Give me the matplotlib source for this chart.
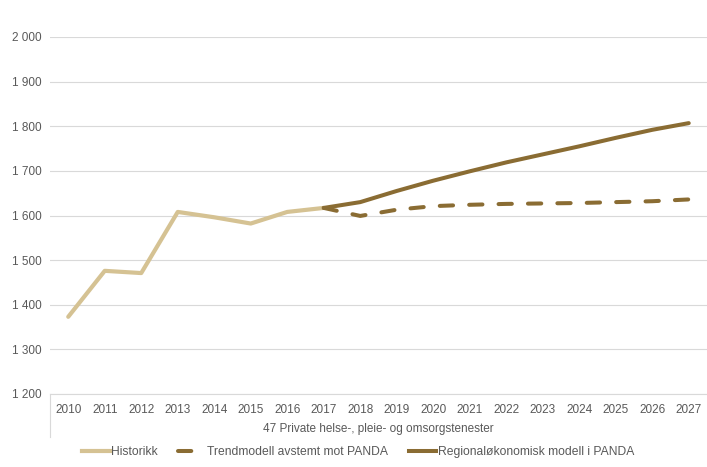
import matplotlib
matplotlib.use("Agg")
import matplotlib.pyplot as plt
from matplotlib.lines import Line2D

years = [str(y) for y in range(2010, 2028)]
historikk = [1373, 1476, 1471, 1608, 1596, 1582, 1608, 1617]
trend_years = years[7:]
trend = [1617, 1599, 1613, 1621, 1624, 1626, 1627, 1628, 1630, 1632, 1636]
regional = [1617, 1630, 1655, 1678, 1699, 1719, 1737, 1755, 1774, 1792, 1807]
yticks = [1200, 1300, 1400, 1500, 1600, 1700, 1800, 1900, 2000]
ytick_labels = ["1 200", "1 300", "1 400", "1 500", "1 600", "1 700", "1 800", "1 900", "2 000"]
category_label = "47 Private helse-, pleie- og omsorgstenester"
legend_labels = ["Historikk", "Trendmodell avstemt mot PANDA", "Regionaløkonomisk modell i PANDA"]

light = "#D5C293"
dark = "#8A6C33"
txt = "#595959"

plt.rcParams['font.family'] = ['Liberation Sans', 'DejaVu Sans']

W, H = 707, 467
fig = plt.figure(figsize=(W / 100, H / 100), dpi=100)
ax = fig.add_axes([50 / W, 1 - 394 / H, (707 - 50) / W, (394 - 37) / H])

xidx = {y: i for i, y in enumerate(years)}
hx = [xidx[y] for y in years[:len(historikk)]]
tx = [xidx[y] for y in trend_years]

l1, = ax.plot(hx, historikk, color=light, lw=3.0, solid_capstyle='round', solid_joinstyle='round', zorder=3)
l3, = ax.plot(tx, regional, color=dark, lw=2.9, solid_capstyle='round', solid_joinstyle='round', zorder=4)
l2, = ax.plot(tx, trend, color=dark, lw=2.9, dashes=(3.3, 4.0), dash_capstyle='round', zorder=4)

ax.set_xlim(-0.5, len(years) - 0.5)
ax.set_ylim(1200, 2000)
ax.set_yticks(yticks)
ax.set_yticklabels(ytick_labels)
ax.set_xticks(range(len(years)))
ax.set_xticklabels(years)
ax.tick_params(axis='both', length=0, labelsize=8.5, colors=txt)
ax.tick_params(axis='y', pad=6)
ax.tick_params(axis='x', pad=7)
ax.grid(axis='y', color='#D9D9D9', lw=0.8, zorder=0)
for s in ['top', 'right', 'left']:
    ax.spines[s].set_visible(False)
ax.spines['bottom'].set_color('#D9D9D9')
ax.spines['bottom'].set_linewidth(0.8)

# multi-level category axis box line
ax.plot([0, 0], [0, -43 / (394 - 37)], transform=ax.transAxes, color='#D9D9D9', lw=0.8, clip_on=False)
ax.text(0.5, -35 / (394 - 37), category_label, transform=ax.transAxes, ha='center', va='center',
        fontsize=8.5, color=txt)

handles = [Line2D([], [], color=light, lw=3.0),
           Line2D([], [], color=dark, lw=2.9, dashes=(3.3, 4.0), dash_capstyle='round'),
           Line2D([], [], color=dark, lw=2.9)]
fig.legend(handles, legend_labels, loc='center', bbox_to_anchor=(358 / W, 1 - 452 / H), ncol=3,
           frameon=False, fontsize=8.7, labelcolor=txt, handlelength=2.3, handletextpad=0.1,
           columnspacing=1.7)

fig.savefig("out.png", dpi=100)
